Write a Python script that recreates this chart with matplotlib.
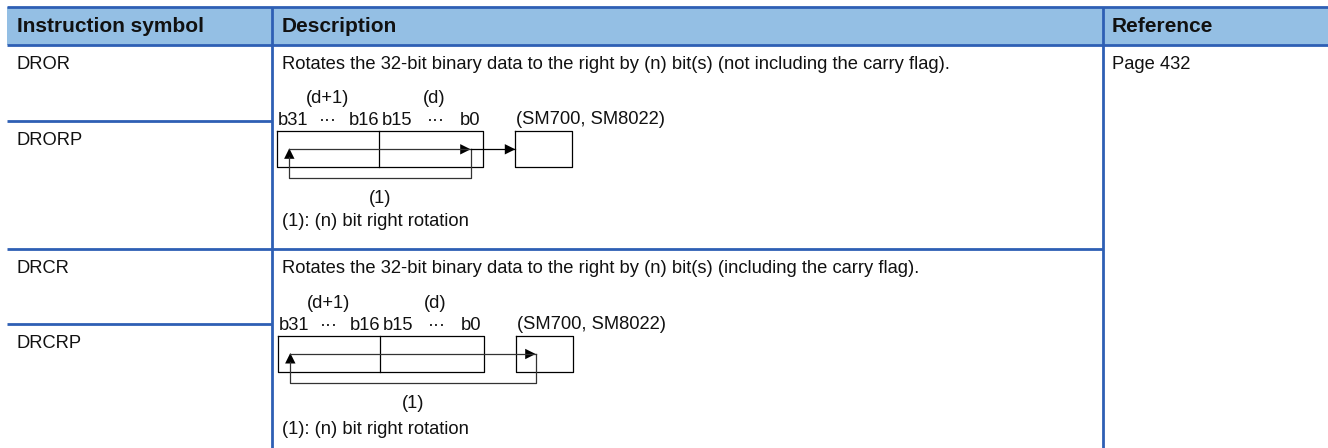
import matplotlib
matplotlib.use("Agg")
from matplotlib import pyplot as plt

# table content
headers = ["Instruction symbol", "Description", "Reference"]
symbols = ["DROR", "DRORP", "DRCR", "DRCRP"]
descriptions = [
    "Rotates the 32-bit binary data to the right by (n) bit(s) (not including the carry flag).",
    "Rotates the 32-bit binary data to the right by (n) bit(s) (including the carry flag).",
]
reference = "Page 432"
word_labels = ["(d+1)", "(d)"]
bit_labels = ["b31", "\u00b7\u00b7\u00b7", "b16", "b15", "\u00b7\u00b7\u00b7", "b0"]
carry_label = "(SM700, SM8022)"
loop_label = "(1)"
note = "(1): (n) bit right rotation"

W, H = 1328, 448
blue = "#2e5fb4"
head_fill = "#94bfe4"
txt = "#111111"
FONT = "Liberation Sans"
fs = 13.2      # about 18 px
fs_head = 15.0

fig = plt.figure(figsize=(W / 100, H / 100), dpi=100)
ax = fig.add_axes([0, 0, 1, 1])
ax.set_xlim(0, W)
ax.set_ylim(H, 0)
ax.axis("off")

# column layout
x_left = 7
x_col1 = 272
x_col2 = 1102.7
y_top = 7.3
y_head = 44.7
y_rows = [120.7, 249, 324.3]
lw_tab = 2.0

# header band
ax.fill([x_left, W, W, x_left], [y_top, y_top, y_head, y_head], color=head_fill, lw=0)
ax.plot([x_left, W], [y_top, y_top], color=blue, lw=lw_tab, solid_capstyle="butt")
ax.plot([x_left, W], [y_head, y_head], color=blue, lw=lw_tab, solid_capstyle="butt")
for xc in [x_col1, x_col2]:
    ax.plot([xc, xc], [y_top, H], color=blue, lw=lw_tab, solid_capstyle="butt")
# row separators
ax.plot([x_left, x_col1], [y_rows[0], y_rows[0]], color=blue, lw=lw_tab, solid_capstyle="butt")
ax.plot([x_left, x_col2], [y_rows[1], y_rows[1]], color=blue, lw=lw_tab, solid_capstyle="butt")
ax.plot([x_left, x_col1], [y_rows[2], y_rows[2]], color=blue, lw=lw_tab, solid_capstyle="butt")

for hx, h in zip([17, 282, 1112], headers):
    ax.text(hx, 32, h, fontsize=fs_head, fontweight="bold", family=FONT,
            color=txt, va="baseline", ha="left")

sym_y = [69, 145, 273, 348]
for s, sy in zip(symbols, sym_y):
    ax.text(17, sy, s, fontsize=fs, family=FONT, color=txt, va="baseline")

for d, dy in zip(descriptions, [69, 273]):
    ax.text(282, dy, d, fontsize=fs, family=FONT, color=txt, va="baseline")
ax.text(1112, 69, reference, fontsize=fs, family=FONT, color=txt, va="baseline")


def head(x, y, direction):
    # small filled arrow head, tip at (x, y)
    L, w = 10.5, 5.2
    if direction == "right":
        ax.fill([x, x - L, x - L], [y, y - w, y + w], color="black", lw=0)
    else:
        ax.fill([x, x - w, x + w], [y, y + L, y + L], color="black", lw=0)


def diagram(x0, y0, with_carry, note_y):
    bw, bh = 205.4, 36.3
    mid = x0 + 102
    # register box
    ax.plot([x0, x0 + bw, x0 + bw, x0, x0], [y0, y0, y0 + bh, y0 + bh, y0],
            color="black", lw=0.9)
    ax.plot([mid, mid], [y0, y0 + bh], color="black", lw=0.9)
    # carry flag box
    cx0, cx1 = x0 + 238, x0 + 294.4
    ax.plot([cx0, cx1, cx1, cx0, cx0], [y0, y0, y0 + bh, y0 + bh, y0],
            color="black", lw=0.9)

    # labels above the boxes
    ax.text(x0 + 50.7, y0 - 28, word_labels[0], fontsize=fs, family=FONT, color=txt, ha="center", va="baseline")
    ax.text(x0 + 156.4, y0 - 28, word_labels[1], fontsize=fs, family=FONT, color=txt, ha="center", va="baseline")
    by = y0 - 6
    ax.text(x0, by, bit_labels[0], fontsize=fs, family=FONT, color=txt, ha="left", va="baseline")
    ax.text(x0 + 51, by, bit_labels[1], fontsize=fs, family=FONT, color=txt, ha="center", va="baseline")
    ax.text(mid, by, bit_labels[2], fontsize=fs, family=FONT, color=txt, ha="right", va="baseline")
    ax.text(mid + 2.4, by, bit_labels[3], fontsize=fs, family=FONT, color=txt, ha="left", va="baseline")
    ax.text(x0 + 158.7, by, bit_labels[4], fontsize=fs, family=FONT, color=txt, ha="center", va="baseline")
    ax.text(x0 + 203, by, bit_labels[5], fontsize=fs, family=FONT, color=txt, ha="right", va="baseline")
    ax.text(cx0 + 0.7, y0 - 7, carry_label, fontsize=fs, family=FONT, color=txt, ha="left", va="baseline")

    # rotation path
    ay = y0 + 18.3
    lx = x0 + 12
    rx = x0 + 257.4 if with_carry else x0 + 193.4
    ly = y0 + 47.2
    gray = "#333333"
    ax.plot([lx, rx], [ay, ay], color=gray, lw=0.9)
    ax.plot([rx, rx, lx, lx], [ay, ly, ly, ay + 8], color=gray, lw=0.9)
    head(rx, ay, "right")
    head(lx, ay - 1, "up")
    if not with_carry:
        ax.plot([rx, cx0], [ay, ay], color="black", lw=0.9)
        head(cx0, ay, "right")
    ax.text((lx + rx) / 2, ly + 25, loop_label, fontsize=fs, family=FONT, color=txt, ha="center", va="baseline")
    ax.text(282, note_y, note, fontsize=fs, family=FONT, color=txt, ha="left", va="baseline")


diagram(277.3, 131, False, 226)
diagram(278.3, 335.7, True, 434)

fig.savefig("out.png", dpi=100)
